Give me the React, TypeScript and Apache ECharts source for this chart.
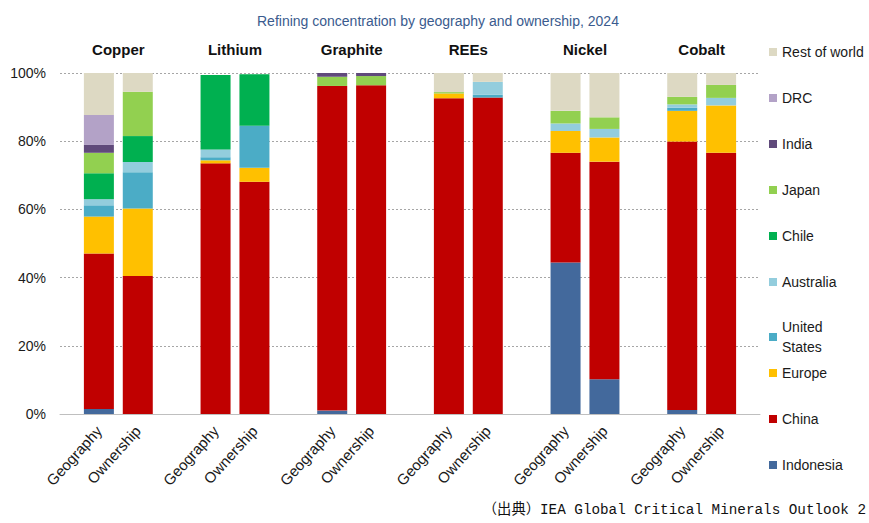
import React, { useEffect, useRef } from "react";
import * as echarts from "echarts";

const titleText = "Refining concentration by geography and ownership, 2024";
const sourceText = "（出典）IEA Global Critical Minerals Outlook 2";
const minerals = ["Copper", "Lithium", "Graphite", "REEs", "Nickel", "Cobalt"];
const views = ["Geography", "Ownership"];
const yTicks = [0, 20, 40, 60, 80, 100];

// order of values: Cu G, Cu O, Li G, Li O, Gr G, Gr O, REE G, REE O, Ni G, Ni O, Co G, Co O
const indonesia = [1.5, 0, 0, 0, 1.0, 0, 0, 0, 44.4, 10.2, 1.2, 0];
const china = [45.6, 40.5, 73.5, 68.1, 95.2, 96.4, 92.6, 92.8, 32.2, 63.8, 78.7, 76.6];
const europe = [10.8, 19.8, 0.9, 4.1, 0, 0, 1.4, 0, 6.4, 7.1, 9.0, 13.9];
const unitedStates = [3.3, 10.6, 0.9, 12.3, 0, 0, 0, 0.8, 0, 0, 0.9, 0];
const australia = [1.8, 3.0, 2.3, 0, 0, 0, 0, 3.8, 2.2, 2.5, 1.0, 2.2];
const chile = [7.6, 7.6, 21.8, 15.1, 0, 0, 0, 0, 0, 0, 0, 0];
const japan = [6.0, 13.0, 0, 0, 2.7, 2.7, 0.4, 0, 3.7, 3.4, 2.2, 3.8];
const india = [2.3, 0, 0, 0, 1.1, 0.9, 0, 0, 0, 0, 0, 0];
const drc = [8.8, 0, 0, 0, 0, 0, 0, 0, 0, 0, 0, 0];
const restOfWorld = [12.3, 5.5, 0, 0, 0, 0, 5.6, 2.6, 11.1, 13.0, 7.0, 3.5];

const seriesDefs = [
  { name: "Indonesia", values: indonesia, color: "#43699c" },
  { name: "China", values: china, color: "#c00000" },
  { name: "Europe", values: europe, color: "#ffc000" },
  { name: "United States", values: unitedStates, color: "#4bacc6" },
  { name: "Australia", values: australia, color: "#93cddd" },
  { name: "Chile", values: chile, color: "#00b050" },
  { name: "Japan", values: japan, color: "#92d050" },
  { name: "India", values: india, color: "#604a7b" },
  { name: "DRC", values: drc, color: "#b3a2c7" },
  { name: "Rest of world", values: restOfWorld, color: "#ddd9c3" },
];

// category slots: pad, then (Geography, Ownership, gap) per mineral
const slotLabels: string[] = [""];
const slotIds: string[] = ["pad"];
minerals.forEach((m, i) => {
  views.forEach((v) => {
    slotLabels.push(v);
    slotIds.push(m + "-" + v);
  });
  slotLabels.push("");
  slotIds.push("gap" + i);
});

function toSlots(values: number[]) {
  const out: (number | null)[] = [null];
  minerals.forEach((_, i) => {
    out.push(values[i * 2] || null, values[i * 2 + 1] || null, null);
  });
  return out;
}

export default function App() {
  const ref = useRef<HTMLDivElement>(null);
  useEffect(() => {
    if (!ref.current) return;
    const chart = echarts.init(ref.current, null, { renderer: "svg" });
    const textFont = "'Liberation Sans', Arial, sans-serif";
    const legendText = { fontSize: 14, color: "#1a1a1a", fontFamily: textFont, lineHeight: 20 };
    const legendBase = {
      orient: "vertical",
      left: 769,
      icon: "rect",
      itemWidth: 8,
      itemHeight: 8,
      itemGap: 26,
      selectedMode: false,
      textStyle: legendText,
      padding: 0,
    };
    chart.setOption({
      animation: false,
      backgroundColor: "#ffffff",
      title: {
        text: titleText,
        left: 252,
        top: 9,
        textStyle: { fontSize: 14, fontWeight: "normal", color: "#3a5b8e", fontFamily: textFont },
      },
      legend: [
        { ...legendBase, top: 42, data: ["Rest of world", "DRC", "India", "Japan", "Chile", "Australia"] },
        {
          ...legendBase,
          top: 317,
          data: ["United States"],
          formatter: () => "United\nStates",
        },
        { ...legendBase, top: 363, data: ["Europe", "China", "Indonesia"] },
      ],
      grid: { left: 60, right: 109, top: 73, bottom: 109, containLabel: false },
      xAxis: [
        {
          type: "category",
          data: slotIds,
          boundaryGap: false,
          axisLine: { show: true, lineStyle: { color: "#bfbfbf", width: 1 } },
          axisTick: { show: false },
          axisLabel: {
            interval: 0,
            rotate: 48,
            margin: 14,
            fontSize: 15,
            color: "#1a1a1a",
            fontFamily: textFont,
            formatter: (_v: string, i: number) => slotLabels[i],
          },
          splitLine: { show: false },
        },
        {
          type: "value",
          position: "top",
          min: -1,
          max: slotIds.length - 2,
          axisLine: { show: false },
          axisTick: { show: false },
          splitLine: { show: false },
          axisLabel: {
            customValues: minerals.map((_, i) => i * 3 + 0.5),
            margin: 16,
            fontSize: 15,
            fontWeight: "bold",
            color: "#111111",
            fontFamily: textFont,
            formatter: (v: number) => minerals[Math.round((v - 0.5) / 3)] ?? "",
          },
        },
      ],
      yAxis: {
        type: "value",
        min: yTicks[0],
        max: yTicks[yTicks.length - 1],
        interval: yTicks[1] - yTicks[0],
        axisLine: { show: false },
        axisTick: { show: false },
        axisLabel: {
          formatter: "{value}%",
          fontSize: 14,
          color: "#1a1a1a",
          margin: 14,
          fontFamily: textFont,
        },
        splitLine: { lineStyle: { color: "#a6a6a6", type: [2, 2], width: 1 } },
      },
      graphic: [
        {
          type: "text",
          right: 3,
          top: 503,
          style: {
            text: sourceText,
            fontSize: 14.3,
            fill: "#111111",
            fontFamily: "'Liberation Mono', 'Noto Sans CJK JP', monospace",
          },
        },
      ],
      series: seriesDefs.map((s) => ({
        name: s.name,
        type: "bar",
        stack: "total",
        xAxisIndex: 0,
        barWidth: 30,
        data: toSlots(s.values),
        itemStyle: { color: s.color },
        emphasis: { disabled: true },
      })),
    });
    return () => chart.dispose();
  }, []);
  return <div ref={ref} style={{ position: "absolute", left: 0, top: 0, width: 869, height: 523 }} />;
}
